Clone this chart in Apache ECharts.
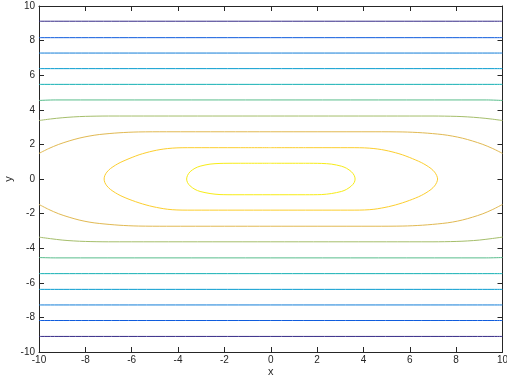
<!DOCTYPE html>
<html>
<head>
<meta charset="utf-8">
<script src="https://cdn.jsdelivr.net/npm/echarts@6/dist/echarts.min.js"></script>
<style>
html,body{margin:0;padding:0;background:#fff;}
#c{width:507px;height:381px;}
</style>
</head>
<body>
<div id="c"></div>
<script>
// Axis ticks
const xTicks = [-10, -8, -6, -4, -2, 0, 2, 4, 6, 8, 10];
const yTicks = [-10, -8, -6, -4, -2, 0, 2, 4, 6, 8, 10];

// Contour level colours (parula), lowest level first
const levelColors = ['#352a87', '#0f5cdd', '#127dd8', '#079ccf', '#15b1b4',
                     '#59bd8c', '#a5be6b', '#e1b952', '#fcce2e', '#f7ec18'];

// Contour lines, as [x, y] points
const lev0Top = [[-10, 9.12], [10, 9.12]];
const lev0Bot = [[-10, -9.1], [10, -9.1]];
const lev1Top = [[-10, 8.17], [10, 8.17]];
const lev1Bot = [[-10, -8.18], [10, -8.18]];
const lev2Top = [[-10, 7.28], [10, 7.28]];
const lev2Bot = [[-10, -7.28], [10, -7.28]];
const lev3Top = [[-10, 6.38], [10, 6.38]];
const lev3Bot = [[-10, -6.38], [10, -6.38]];
const lev4Top = [[-10, 5.47], [10, 5.47]];
const lev4Bot = [[-10, -5.47], [10, -5.47]];
const lev5Top = [[-10, 4.54], [-9.3, 4.57], [0, 4.57], [9.3, 4.57], [10, 4.54]];
const lev5Bot = [[-10, -4.54], [-9.3, -4.56], [0, -4.56], [9.3, -4.56], [10, -4.54]];
const lev6Top = [[-10, 3.38], [-9.5, 3.47], [-9, 3.54], [-8.5, 3.59], [-8, 3.62], [-7, 3.64],
                 [-5, 3.64], [0, 3.64], [5, 3.64], [7, 3.64], [8, 3.62], [8.5, 3.59], [9, 3.54], [9.5, 3.47], [10, 3.38]];
const lev6Bot = [[-10, -3.36], [-9.5, -3.45], [-9, -3.53], [-8.5, -3.58], [-8, -3.61], [-7, -3.63],
                 [-5, -3.63], [0, -3.63], [5, -3.63], [7, -3.63], [8, -3.61], [8.5, -3.58], [9, -3.53], [9.5, -3.45], [10, -3.36]];
const lev7Top = [[-10, 1.48], [-9.58, 1.76], [-9.15, 2.0], [-8.7, 2.2], [-8.27, 2.36], [-7.84, 2.48],
                 [-7.4, 2.57], [-6.55, 2.67], [-5.7, 2.72], [-4.5, 2.73], [-2, 2.73], [0, 2.73], [2, 2.73], [4.5, 2.73],
                 [5.7, 2.72], [6.55, 2.67], [7.4, 2.57], [7.84, 2.48], [8.27, 2.36], [8.7, 2.2], [9.15, 2.0], [9.58, 1.76], [10, 1.48]];
const lev7Bot = [[-10, -1.47], [-9.58, -1.76], [-9.15, -2.01], [-8.7, -2.21], [-8.27, -2.37], [-7.84, -2.49],
                 [-7.4, -2.57], [-6.55, -2.67], [-5.7, -2.72], [-4.5, -2.73], [-2, -2.73], [0, -2.73], [2, -2.73], [4.5, -2.73],
                 [5.7, -2.72], [6.55, -2.67], [7.4, -2.57], [7.84, -2.49], [8.27, -2.37], [8.7, -2.21], [9.15, -2.01], [9.58, -1.76], [10, -1.47]];
const lev8Loop = [[0, 1.81], [1.5, 1.81], [3, 1.81], [3.6, 1.81], [4.05, 1.8], [4.45, 1.76], [4.78, 1.7], [5.08, 1.62],
                  [5.38, 1.52], [5.68, 1.4], [5.98, 1.25], [6.25, 1.1], [6.5, 0.95], [6.7, 0.8], [6.92, 0.6], [7.07, 0.4],
                  [7.16, 0.2], [7.2, 0],
                  [7.16, -0.2], [7.07, -0.4], [6.92, -0.6], [6.7, -0.8], [6.5, -0.95], [6.25, -1.1], [5.98, -1.24],
                  [5.68, -1.38], [5.38, -1.5], [5.08, -1.6], [4.78, -1.68], [4.45, -1.75], [4.05, -1.79], [3.6, -1.8],
                  [3, -1.8], [1.5, -1.8], [0, -1.8],
                  [-1.5, -1.8], [-3, -1.8], [-3.6, -1.8], [-4.05, -1.79], [-4.45, -1.75], [-4.78, -1.68], [-5.08, -1.6],
                  [-5.38, -1.5], [-5.68, -1.38], [-5.98, -1.24], [-6.25, -1.1], [-6.5, -0.95], [-6.7, -0.8], [-6.92, -0.6],
                  [-7.07, -0.4], [-7.16, -0.2], [-7.19, 0],
                  [-7.16, 0.2], [-7.07, 0.4], [-6.92, 0.6], [-6.7, 0.8], [-6.5, 0.95], [-6.25, 1.1], [-5.98, 1.25],
                  [-5.68, 1.4], [-5.38, 1.52], [-5.08, 1.62], [-4.78, 1.7], [-4.45, 1.76], [-4.05, 1.8], [-3.6, 1.81],
                  [-3, 1.81], [-1.5, 1.81], [0, 1.81]];
const lev9Loop = [[0, 0.91], [1.5, 0.91], [2.19, 0.9], [2.62, 0.86], [3.05, 0.74], [3.27, 0.62], [3.48, 0.42],
                  [3.6, 0.21], [3.64, 0], [3.6, -0.21], [3.48, -0.4], [3.27, -0.6], [3.05, -0.72], [2.62, -0.84],
                  [2.19, -0.9], [1.5, -0.91], [0, -0.91], [-1.5, -0.91], [-2.19, -0.9], [-2.62, -0.84], [-3.05, -0.72],
                  [-3.27, -0.6], [-3.48, -0.4], [-3.59, -0.21], [-3.63, 0], [-3.59, 0.21], [-3.48, 0.42], [-3.27, 0.62],
                  [-3.05, 0.74], [-2.62, 0.86], [-2.19, 0.9], [-1.5, 0.91], [0, 0.91]];

const contourLines = [
  [lev0Top, 0], [lev0Bot, 0], [lev1Top, 1], [lev1Bot, 1], [lev2Top, 2], [lev2Bot, 2],
  [lev3Top, 3], [lev3Bot, 3], [lev4Top, 4], [lev4Bot, 4], [lev5Top, 5], [lev5Bot, 5],
  [lev6Top, 6], [lev6Bot, 6], [lev7Top, 7], [lev7Bot, 7], [lev8Loop, 8], [lev9Loop, 9]
];

const textColor = '#262626';
const font = 'Liberation Sans, Arial, Helvetica, sans-serif';

function baseAxis(pos, showLabels, name) {
  return {
    type: 'value', position: pos, min: -10, max: 10, interval: 2,
    name: name || '', nameLocation: 'middle', nameMoveOverlap: false,
    nameTextStyle: { color: textColor, fontSize: 11, fontFamily: font },
    axisLine: { show: true, onZero: false, lineStyle: { color: textColor, width: 1 } },
    axisTick: { show: true, inside: true, length: 5, lineStyle: { color: textColor, width: 1 } },
    axisLabel: { show: showLabels, color: textColor, fontSize: 10, fontFamily: font, margin: 4 },
    splitLine: { show: false }
  };
}

const chart = echarts.init(document.getElementById('c'), null, { renderer: 'canvas' });
const xBottom = baseAxis('bottom', true, 'x'); xBottom.nameGap = 14; xBottom.axisLabel.margin = 3;
const xTop = baseAxis('top', false);
const yLeft = baseAxis('left', true, 'y'); yLeft.nameGap = 25; yLeft.nameRotate = 90;
const yRight = baseAxis('right', false);

chart.setOption({
  animation: false,
  backgroundColor: '#ffffff',
  grid: { left: 39, right: 4.5, top: 6, bottom: 29, containLabel: false, outerBoundsMode: 'none' },
  xAxis: [xBottom, xTop],
  yAxis: [yLeft, yRight],
  series: contourLines.map(([pts, lvl]) => ({
    type: 'line', xAxisIndex: 0, yAxisIndex: 0,
    data: pts, showSymbol: false, smooth: 0.3,
    lineStyle: { color: levelColors[lvl], width: 1 },
    clip: true
  }))
});
</script>
</body>
</html>
